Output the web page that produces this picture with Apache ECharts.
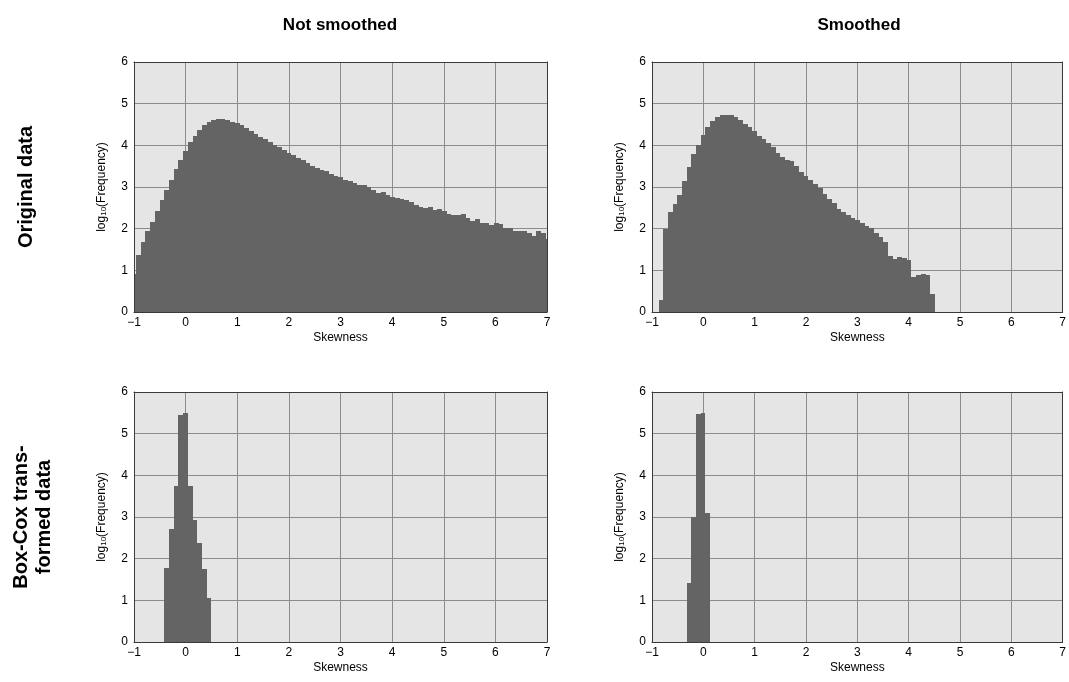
<!DOCTYPE html>
<html>
<head>
<meta charset="utf-8">
<script src="https://cdn.jsdelivr.net/npm/echarts@6/dist/echarts.min.js"></script>
<style>
  html, body { margin: 0; padding: 0; background: #ffffff; overflow: hidden; }
  #chart { width: 1069px; height: 682px; }
</style>
</head>
<body>
<div id="chart"></div>
<script>
// Shared histogram bin grid (skewness values)
const binStart = -1.0522;
const binWidth = 0.0912;

// Axis ticks
const xTicks = [-1, 0, 1, 2, 3, 4, 5, 6, 7];
const yTicks = [0, 1, 2, 3, 4, 5, 6];

// Column and row headings
const columnTitles = ['Not smoothed', 'Smoothed'];
const rowTitles = ['Original data', 'Box-Cox trans-\nformed data'];

// log10(frequency) per bin; each list starts at the given bin index
const originalRawFirstBin = 0;
const originalRaw = [
  0.91, 1.36, 1.67, 1.95, 2.17, 2.43, 2.68, 2.94, 3.18, 3.43,
  3.66, 3.86, 4.09, 4.23, 4.38, 4.50, 4.56, 4.62, 4.64, 4.64,
  4.60, 4.56, 4.53, 4.48, 4.42, 4.34, 4.27, 4.21, 4.15, 4.08,
  4.01, 3.96, 3.89, 3.82, 3.78, 3.70, 3.64, 3.58, 3.51, 3.46,
  3.42, 3.38, 3.32, 3.26, 3.23, 3.18, 3.14, 3.10, 3.05, 3.05,
  3.00, 2.94, 2.86, 2.89, 2.81, 2.76, 2.74, 2.72, 2.70, 2.65,
  2.57, 2.52, 2.50, 2.52, 2.46, 2.48, 2.43, 2.36, 2.34, 2.34,
  2.35, 2.26, 2.19, 2.24, 2.13, 2.14, 2.10, 2.14, 2.11, 2.02,
  2.01, 1.94, 1.95, 1.95, 1.90, 1.83, 1.94, 1.90, 1.76
];

const originalSmoothFirstBin = 2;
const originalSmooth = [
  0.28, 1.99, 2.40, 2.59, 2.82, 3.14, 3.47, 3.79, 4.01, 4.26,
  4.45, 4.58, 4.67, 4.72, 4.73, 4.72, 4.67, 4.61, 4.52, 4.43,
  4.34, 4.22, 4.15, 4.06, 3.96, 3.82, 3.71, 3.65, 3.63, 3.51,
  3.37, 3.27, 3.16, 3.07, 2.98, 2.83, 2.71, 2.61, 2.47, 2.39,
  2.33, 2.25, 2.20, 2.13, 2.06, 2.02, 1.90, 1.79, 1.68, 1.35,
  1.27, 1.33, 1.29, 1.24, 0.84, 0.88, 0.92, 0.88, 0.44
];

const boxcoxRawFirstBin = 7;
const boxcoxRaw = [1.78, 2.72, 3.74, 5.46, 5.50, 3.74, 2.94, 2.37, 1.75, 1.06];

const boxcoxSmoothFirstBin = 8;
const boxcoxSmooth = [1.41, 3.00, 5.47, 5.50, 3.09];

// Turn a list of heights into [binLeft, binRight, height] rows
function toBins(firstBin, heights) {
  return heights.map(function (h, i) {
    const k = firstBin + i;
    return [binStart + k * binWidth, binStart + (k + 1) * binWidth, h];
  });
}

const panels = [
  { data: toBins(originalRawFirstBin, originalRaw) },
  { data: toBins(originalSmoothFirstBin, originalSmooth) },
  { data: toBins(boxcoxRawFirstBin, boxcoxRaw) },
  { data: toBins(boxcoxSmoothFirstBin, boxcoxSmooth) }
];

const FONT = '"Liberation Sans", Arial, sans-serif';
const BAR = '#646464';
const GRIDLINE = '#8c8c8c';
const FRAME = '#3a3a3a';

const gridRects = [
  { left: 134, top: 62, width: 413, height: 250 },
  { left: 652, top: 62, width: 414, height: 250 },
  { left: 134, top: 392, width: 413, height: 250 },
  { left: 652, top: 392, width: 414, height: 250 }
];

function minusFmt(v) {
  return v < 0 ? '\u2212' + (-v) : String(v);
}

// Histogram bars: edges snapped to whole pixels so neighbouring bins butt cleanly
function renderBar(params, api) {
  const lo = api.coord([api.value(0), api.value(2)]);
  const hi = api.coord([api.value(1), 0]);
  const x0 = Math.round(lo[0]);
  const x1 = Math.round(hi[0]);
  const y0 = Math.round(lo[1]);
  const cs = params.coordSys;
  const shape = echarts.graphic.clipRectByRect(
    { x: x0, y: y0, width: x1 - x0, height: hi[1] - y0 },
    { x: cs.x, y: cs.y, width: cs.width, height: cs.height }
  );
  return shape && {
    type: 'rect',
    shape: shape,
    style: { fill: BAR }
  };
}

const grid = [], xAxis = [], yAxis = [], series = [];
gridRects.forEach(function (r, i) {
  grid.push(Object.assign({
    show: true, backgroundColor: '#e5e5e5', borderWidth: 0, containLabel: false
  }, r));

  xAxis.push({
    gridIndex: i, type: 'value', position: 'bottom',
    min: xTicks[0], max: xTicks[xTicks.length - 1], interval: 1,
    axisLine: { show: true, onZero: false, lineStyle: { color: FRAME, width: 1 } },
    axisTick: { show: false },
    splitLine: { show: false },
    axisLabel: { formatter: minusFmt, color: '#000', fontSize: 12, fontFamily: FONT, margin: 5 },
    name: 'Skewness', nameLocation: 'middle', nameGap: 20,
    nameTextStyle: { color: '#000', fontSize: 12, fontFamily: FONT },
    z: 10
  });
  xAxis.push({
    gridIndex: i, type: 'value', position: 'top',
    min: xTicks[0], max: xTicks[xTicks.length - 1], interval: 1,
    axisLine: { show: true, onZero: false, lineStyle: { color: FRAME, width: 1 } },
    axisTick: { show: false },
    axisLabel: { show: false },
    splitLine: { show: true, lineStyle: { color: GRIDLINE, width: 1 } },
    z: 0
  });

  yAxis.push({
    gridIndex: i, type: 'value', position: 'left',
    min: yTicks[0], max: yTicks[yTicks.length - 1], interval: 1,
    axisLine: { show: true, onZero: false, lineStyle: { color: FRAME, width: 1 } },
    axisTick: { show: false },
    splitLine: { show: false },
    axisLabel: { color: '#000', fontSize: 12, fontFamily: FONT, margin: 6 },
    name: 'log{s|10}(Frequency)', nameLocation: 'middle', nameGap: 26,
    nameTextStyle: {
      color: '#000', fontSize: 12, fontFamily: FONT,
      rich: { s: { fontSize: 8, fontFamily: FONT, color: '#000', verticalAlign: 'bottom', padding: [4, 0, 0, 0] } }
    },
    z: 10
  });
  yAxis.push({
    gridIndex: i, type: 'value', position: 'right',
    min: yTicks[0], max: yTicks[yTicks.length - 1], interval: 1,
    axisLine: { show: true, onZero: false, lineStyle: { color: FRAME, width: 1 } },
    axisTick: { show: false },
    axisLabel: { show: false },
    splitLine: { show: true, lineStyle: { color: GRIDLINE, width: 1 } },
    z: 0
  });

  series.push({
    type: 'custom',
    xAxisIndex: 2 * i,
    yAxisIndex: 2 * i,
    renderItem: renderBar,
    encode: { x: [0, 1], y: 2 },
    data: panels[i].data,
    silent: true,
    z: 2
  });
});

const headingStyle = { fill: '#000', fontSize: 17, fontWeight: 'bold', fontFamily: FONT, align: 'center', verticalAlign: 'middle' };
const rowStyle = { fill: '#000', fontSize: 20, fontWeight: 'bold', fontFamily: FONT, align: 'center', verticalAlign: 'middle', lineHeight: 23 };

const graphic = [
  { type: 'text', x: 340, y: 25, style: Object.assign({ text: columnTitles[0] }, headingStyle) },
  { type: 'text', x: 859, y: 25, style: Object.assign({ text: columnTitles[1] }, headingStyle) },
  { type: 'text', x: 26, y: 187, rotation: Math.PI / 2, style: Object.assign({ text: rowTitles[0] }, rowStyle) },
  { type: 'text', x: 33, y: 517, rotation: Math.PI / 2, style: Object.assign({ text: rowTitles[1] }, rowStyle) }
];

const chart = echarts.init(document.getElementById('chart'), null, { renderer: 'canvas' });
chart.setOption({
  animation: false,
  backgroundColor: '#ffffff',
  textStyle: { fontFamily: FONT },
  grid: grid,
  xAxis: xAxis,
  yAxis: yAxis,
  series: series,
  graphic: graphic
});
</script>
</body>
</html>
